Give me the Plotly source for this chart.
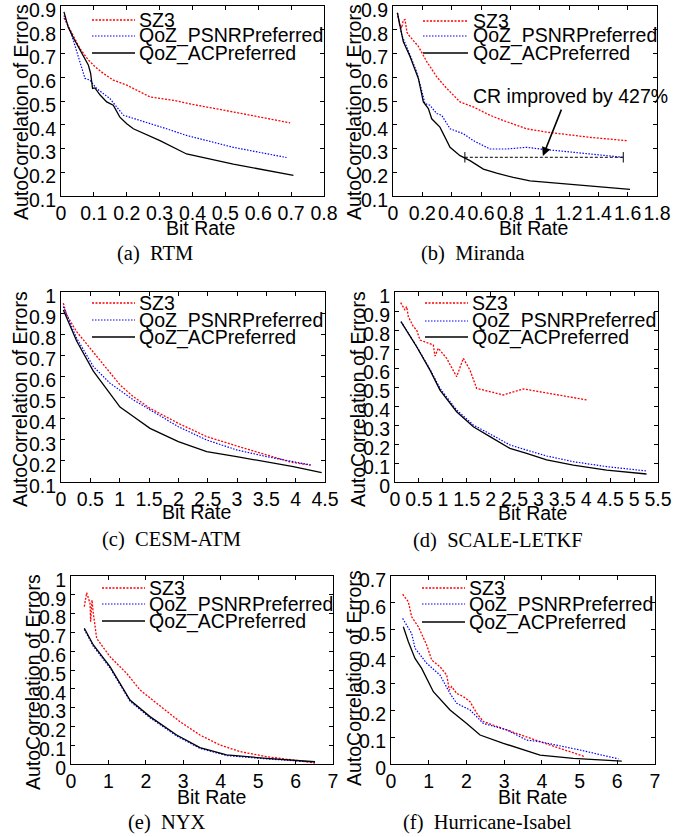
import plotly.graph_objects as go

W, H = 697, 837

# ---------------- data ----------------
# (a) RTM
rtm_sz3_x = [0.009, 0.027, 0.058, 0.083, 0.103, 0.129, 0.159, 0.20, 0.24, 0.271, 0.342, 0.403, 0.524, 0.697]
rtm_sz3_y = [0.85, 0.80, 0.72, 0.673, 0.645, 0.616, 0.588, 0.567, 0.538, 0.517, 0.503, 0.485, 0.454, 0.408]
rtm_psnr_x = [0.009, 0.032, 0.073, 0.088, 0.108, 0.149, 0.19, 0.261, 0.321, 0.382, 0.524, 0.686]
rtm_psnr_y = [0.86, 0.78, 0.595, 0.588, 0.553, 0.51, 0.44, 0.41, 0.383, 0.355, 0.305, 0.262]
rtm_ac_x = [0.009, 0.022, 0.038, 0.058, 0.083, 0.09, 0.096, 0.103, 0.119, 0.139, 0.159, 0.179, 0.20, 0.22, 0.301, 0.382, 0.524, 0.707]
rtm_ac_y = [0.875, 0.81, 0.765, 0.715, 0.652, 0.617, 0.553, 0.555, 0.525, 0.496, 0.482, 0.432, 0.404, 0.383, 0.333, 0.277, 0.234, 0.187]

# (b) Miranda
mir_sz3_x = [0.03, 0.045, 0.059, 0.07, 0.082, 0.095, 0.105, 0.173, 0.23, 0.298, 0.366, 0.457, 0.548, 0.661, 0.752, 0.911, 1.048, 1.343, 1.593]
mir_sz3_y = [0.871, 0.82, 0.807, 0.84, 0.843, 0.79, 0.779, 0.73, 0.666, 0.602, 0.553, 0.496, 0.475, 0.44, 0.418, 0.383, 0.369, 0.347, 0.333]
mir_psnr_x = [0.03, 0.059, 0.116, 0.161, 0.195, 0.218, 0.252, 0.298, 0.332, 0.389, 0.48, 0.548, 0.661, 0.775, 0.911, 1.002, 1.23, 1.57]
mir_psnr_y = [0.871, 0.779, 0.694, 0.623, 0.546, 0.489, 0.482, 0.447, 0.44, 0.383, 0.362, 0.333, 0.298, 0.298, 0.305, 0.298, 0.284, 0.263]
mir_ac_x = [0.03, 0.07, 0.116, 0.173, 0.207, 0.241, 0.264, 0.32, 0.389, 0.457, 0.525, 0.616, 0.707, 0.82, 0.934, 1.116, 1.366, 1.616]
mir_ac_y = [0.871, 0.75, 0.687, 0.595, 0.496, 0.468, 0.425, 0.39, 0.305, 0.27, 0.249, 0.213, 0.196, 0.178, 0.164, 0.154, 0.142, 0.128]

# (c) CESM-ATM
cesm_sz3_x = [0.04, 0.097, 0.267, 0.494, 0.722, 1.006, 1.233, 1.517, 2.0, 2.483, 2.994, 3.506, 3.903, 4.25]
cesm_sz3_y = [0.947, 0.891, 0.812, 0.733, 0.654, 0.56, 0.504, 0.449, 0.378, 0.315, 0.271, 0.228, 0.195, 0.18]
cesm_psnr_x = [0.04, 0.267, 0.551, 0.835, 1.233, 1.517, 2.0, 2.483, 2.994, 3.506, 4.27]
cesm_psnr_y = [0.931, 0.781, 0.647, 0.568, 0.489, 0.441, 0.362, 0.299, 0.252, 0.22, 0.18]
cesm_ac_x = [0.04, 0.267, 0.551, 0.722, 1.006, 1.233, 1.517, 2.0, 2.483, 2.994, 3.506, 3.96, 4.443]
cesm_ac_y = [0.915, 0.768, 0.625, 0.56, 0.455, 0.41, 0.354, 0.291, 0.244, 0.22, 0.196, 0.173, 0.144]

# (d) SCALE-LETKF
scale_sz3_x = [0.118, 0.209, 0.244, 0.279, 0.383, 0.453, 0.523, 0.697, 0.801, 0.836, 0.906, 1.08, 1.22, 1.289, 1.429, 1.568, 1.707, 2.265, 2.683, 4.007]
scale_sz3_y = [0.944, 0.905, 0.923, 0.87, 0.818, 0.80, 0.747, 0.73, 0.721, 0.663, 0.704, 0.651, 0.589, 0.554, 0.651, 0.589, 0.493, 0.458, 0.49, 0.432]
scale_psnr_x = [0.125, 0.453, 0.732, 0.941, 1.289, 1.638, 1.986, 2.404, 2.753, 3.171, 3.728, 4.425, 5.26]
scale_psnr_y = [0.844, 0.714, 0.593, 0.493, 0.379, 0.30, 0.253, 0.195, 0.168, 0.137, 0.107, 0.081, 0.058]
scale_ac_x = [0.125, 0.453, 0.732, 0.941, 1.289, 1.638, 1.986, 2.404, 2.753, 3.171, 3.728, 4.425, 5.26]
scale_ac_y = [0.844, 0.712, 0.589, 0.484, 0.37, 0.291, 0.239, 0.177, 0.151, 0.116, 0.089, 0.063, 0.042]

# (e) NYX
nyx_sz3_x = [0.356, 0.419, 0.508, 0.525, 0.561, 0.597, 0.686, 1.042, 1.487, 1.843, 2.289, 2.912, 3.446, 3.98, 4.515, 5.227, 5.94, 6.518]
nyx_sz3_y = [0.837, 0.911, 0.855, 0.757, 0.872, 0.801, 0.668, 0.571, 0.482, 0.394, 0.323, 0.225, 0.154, 0.101, 0.066, 0.039, 0.021, 0.005]
nyx_psnr_x = [0.356, 0.597, 1.042, 1.576, 2.11, 2.823, 3.446, 4.158, 5.227, 6.518]
nyx_psnr_y = [0.716, 0.626, 0.511, 0.334, 0.246, 0.149, 0.083, 0.045, 0.027, 0.01]
nyx_ac_x = [0.356, 0.597, 1.042, 1.576, 2.11, 2.823, 3.446, 4.158, 5.227, 6.518]
nyx_ac_y = [0.722, 0.633, 0.518, 0.34, 0.252, 0.154, 0.087, 0.048, 0.03, 0.012]

# (f) Hurricane-Isabel
hur_sz3_x = [0.309, 0.46, 0.548, 0.725, 0.946, 1.079, 1.3, 1.477, 1.547, 1.609, 1.742, 1.919, 2.095, 2.272, 2.449, 3.068, 3.952, 5.146]
hur_sz3_y = [0.632, 0.604, 0.548, 0.511, 0.443, 0.387, 0.362, 0.331, 0.275, 0.288, 0.263, 0.251, 0.232, 0.189, 0.158, 0.127, 0.083, 0.027]
hur_psnr_x = [0.309, 0.548, 0.637, 0.946, 1.3, 1.565, 1.742, 2.095, 2.449, 3.068, 3.599, 3.952, 5.013, 6.03]
hur_psnr_y = [0.542, 0.486, 0.431, 0.375, 0.331, 0.263, 0.226, 0.201, 0.151, 0.127, 0.089, 0.083, 0.052, 0.019]
hur_ac_x = [0.327, 0.46, 0.637, 0.813, 1.123, 1.565, 2.007, 2.361, 2.98, 3.952, 4.836, 6.118]
hur_ac_y = [0.511, 0.455, 0.393, 0.356, 0.269, 0.201, 0.151, 0.108, 0.077, 0.033, 0.021, 0.011]

series_names = ["SZ3", "QoZ_PSNRPreferred", "QoZ_ACPreferred"]
captions = ["(a)\u00a0\u00a0RTM", "(b)\u00a0\u00a0Miranda", "(c)\u00a0\u00a0CESM-ATM",
            "(d)\u00a0\u00a0SCALE-LETKF", "(e)\u00a0\u00a0NYX", "(f)\u00a0\u00a0Hurricane-Isabel"]
x_ranges = [(0, 0.8), (0, 1.8), (0, 4.5), (0, 5.5), (0, 7), (0, 7)]
x_steps = [0.1, 0.2, 0.5, 0.5, 1, 1]
y_ranges = [(0.1, 0.9), (0.1, 0.9), (0.1, 1.0), (0, 1.0), (0, 1.0), (0, 0.7)]
y_step = 0.1

# annotation in (b)
cr_text = "CR improved by 427%"
cr_level = 0.263
cr_x0, cr_x1 = 0.49, 1.57
arrow_head = (1.022, 0.268)
arrow_tail = (1.152, 0.47)

panels = [
    (rtm_sz3_x, rtm_sz3_y, rtm_psnr_x, rtm_psnr_y, rtm_ac_x, rtm_ac_y),
    (mir_sz3_x, mir_sz3_y, mir_psnr_x, mir_psnr_y, mir_ac_x, mir_ac_y),
    (cesm_sz3_x, cesm_sz3_y, cesm_psnr_x, cesm_psnr_y, cesm_ac_x, cesm_ac_y),
    (scale_sz3_x, scale_sz3_y, scale_psnr_x, scale_psnr_y, scale_ac_x, scale_ac_y),
    (nyx_sz3_x, nyx_sz3_y, nyx_psnr_x, nyx_psnr_y, nyx_ac_x, nyx_ac_y),
    (hur_sz3_x, hur_sz3_y, hur_psnr_x, hur_psnr_y, hur_ac_x, hur_ac_y),
]

# ---------------- layout (pixels) ----------------
boxes = [(61, 324, 6, 196), (393, 657, 6, 196), (61, 325, 292, 482),
         (395, 658, 292, 482), (71, 333, 576, 764), (391, 655, 576, 764)]
xtitle_pos = [(200, 228), (533, 228), (196, 512), (532, 513), (211, 797), (532, 797)]
ytitle_pos = [(21, 112), (354, 112), (20, 399), (358, 399), (33, 682), (354, 678)]
caption_pos = [(155, 253), (473, 253), (171, 539), (498, 540), (167, 822), (487, 822)]
legend_pos = [(92, 135, 137, (20, 36, 53)), (423, 468, 471, (21, 36, 53)),
              (92, 135, 137, (303, 320, 337)), (425, 468, 470, (303, 321, 337)),
              (102, 145, 147, (588, 604, 621)), (422, 465, 467, (588, 604, 622))]

SANS = "Liberation Sans, Arial, sans-serif"
SERIF = "Liberation Serif, Times New Roman, serif"
FS = 19.5

styles = [dict(color="#ff0000", width=1.3, dash="2px,1.5px"),
          dict(color="#0000ff", width=1.2, dash="1.5px,1.5px"),
          dict(color="#000000", width=1.3, dash="solid")]


def px(x):
    return x / W


def py(y):
    return 1 - y / H


def ticks(lo, hi, step):
    n = int(round((hi - lo) / step))
    vals = [round(lo + i * step, 6) for i in range(n + 1)]
    txt = [("%g" % v) for v in vals]
    return vals, txt


fig = go.Figure()
annotations = []
shapes = []

for i, (data, box) in enumerate(zip(panels, boxes)):
    sfx = "" if i == 0 else str(i + 1)
    l, r, t, b = box
    for k in range(3):
        fig.add_trace(go.Scatter(x=data[2 * k], y=data[2 * k + 1], mode="lines",
                                 line=styles[k], name=series_names[k], showlegend=False,
                                 hoverinfo="skip",
                                 xaxis="x" + sfx, yaxis="y" + sfx))
    xv, xt = ticks(x_ranges[i][0], x_ranges[i][1], x_steps[i])
    yv, yt = ticks(y_ranges[i][0], y_ranges[i][1], y_step)
    common = dict(showline=True, linecolor="black", linewidth=1, mirror="ticks",
                  ticks="inside", ticklen=4, tickwidth=1, tickcolor="black",
                  showgrid=False, zeroline=False, tickmode="array", tickangle=0,
                  automargin=False, ticklabeloverflow="allow", fixedrange=True,
                  tickfont=dict(family=SANS, size=FS, color="black"))
    fig.update_layout(**{
        "xaxis" + sfx: dict(domain=[px(l), px(r)], range=list(x_ranges[i]),
                            tickvals=xv, ticktext=xt, anchor="y" + sfx, **common),
        "yaxis" + sfx: dict(domain=[py(b), py(t)], range=list(y_ranges[i]),
                            tickvals=yv, ticktext=yt, anchor="x" + sfx,
                            ticklabelshift=4, **common),
    })
    # axis titles and caption
    annotations.append(dict(text="Bit Rate", x=px(xtitle_pos[i][0]), y=py(xtitle_pos[i][1]),
                            xref="paper", yref="paper", showarrow=False,
                            xanchor="center", yanchor="middle",
                            font=dict(family=SANS, size=FS, color="black")))
    annotations.append(dict(text="AutoCorrelation of Errors", x=px(ytitle_pos[i][0]),
                            y=py(ytitle_pos[i][1]), xref="paper", yref="paper",
                            showarrow=False, textangle=-90, xanchor="center", yanchor="middle",
                            font=dict(family=SANS, size=FS, color="black")))
    annotations.append(dict(text=captions[i], x=px(caption_pos[i][0]), y=py(caption_pos[i][1]),
                            xref="paper", yref="paper", showarrow=False,
                            xanchor="center", yanchor="middle",
                            font=dict(family=SERIF, size=20.5, color="black")))
    # legend (drawn manually)
    lx0, lx1, tx, rows = legend_pos[i]
    for k in range(3):
        st = styles[k]
        shapes.append(dict(type="line", xref="paper", yref="paper",
                           x0=px(lx0), x1=px(lx1), y0=py(rows[k]), y1=py(rows[k]),
                           line=dict(color=st["color"], width=st["width"], dash=st["dash"])))
        annotations.append(dict(text=series_names[k], x=px(tx), y=py(rows[k]),
                                xref="paper", yref="paper", showarrow=False,
                                xanchor="left", yanchor="middle",
                                font=dict(family=SANS, size=FS, color="black")))

# annotation in panel (b)
shapes.append(dict(type="line", xref="x2", yref="y2", x0=cr_x0, x1=cr_x1, y0=cr_level, y1=cr_level,
                   line=dict(color="black", width=1, dash="3px,2px")))
for xe in (cr_x0, cr_x1):
    shapes.append(dict(type="line", xref="x2", yref="y2", x0=xe, x1=xe,
                       y0=cr_level - 0.022, y1=cr_level + 0.022,
                       line=dict(color="black", width=1)))
annotations.append(dict(text="", x=arrow_head[0], y=arrow_head[1], xref="x2", yref="y2",
                        ax=arrow_tail[0], ay=arrow_tail[1], axref="x2", ayref="y2",
                        showarrow=True, arrowhead=2, arrowsize=1.1, arrowwidth=1.6,
                        arrowcolor="black"))
annotations.append(dict(text=cr_text, x=px(570), y=py(96), xref="paper", yref="paper",
                        showarrow=False, xanchor="center", yanchor="middle",
                        font=dict(family=SANS, size=FS, color="black")))

fig.update_layout(width=W, height=H, autosize=False,
                  margin=dict(l=0, r=0, t=0, b=0, pad=0, autoexpand=False),
                  paper_bgcolor="white", plot_bgcolor="white", hovermode=False,
                  showlegend=False, annotations=annotations, shapes=shapes)

fig.write_html("out.html", config={"responsive": False, "displayModeBar": False, "staticPlot": True},
               post_script="document.body.style.margin='0';document.body.style.padding='0';")
